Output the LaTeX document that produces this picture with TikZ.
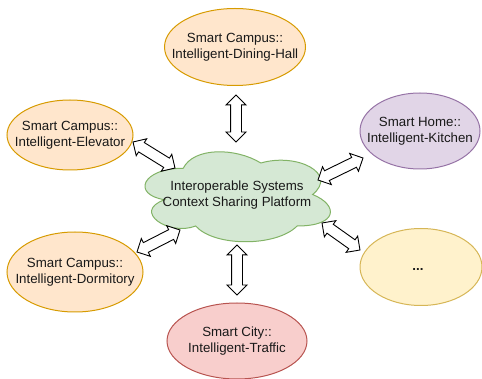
\documentclass[tikz,border=0pt]{standalone}
\usepackage{fontspec}
\setmainfont{Liberation Sans}
\usetikzlibrary{shapes.geometric,shapes.arrows,calc}
\definecolor{orgF}{HTML}{FFE6CC}\definecolor{orgD}{HTML}{D79B00}
\definecolor{purF}{HTML}{E1D5E7}\definecolor{purD}{HTML}{9673A6}
\definecolor{yelF}{HTML}{FFF2CC}\definecolor{yelD}{HTML}{D6B656}
\definecolor{redF}{HTML}{F8CECC}\definecolor{redD}{HTML}{B85450}
\definecolor{grnF}{HTML}{D5E8D4}\definecolor{grnD}{HTML}{82B366}
\tikzset{
  lbl/.style={font=\fontsize{13.3}{15.7}\selectfont, align=center, text=black!90},
  ell/.style={ellipse, draw=#1D, fill=#1F, line width=1pt, inner sep=0pt},
  dbl/.style={to path={let \p1=(\tikztostart), \p2=(\tikztotarget),
     \n1={atan2(\y2-\y1,\x2-\x1)}, \n2={veclen(\x2-\x1,\y2-\y1)} in
     node[double arrow, draw=black, fill=white, line width=0.9pt,
          minimum height=\n2, inner xsep=0pt, inner ysep=5pt, double arrow head extend=4.5pt,
          rotate=\n1] at ($(\tikztostart)!0.5!(\tikztotarget)$) {}}}
}
\begin{document}
\begin{tikzpicture}[x=1pt,y=-1pt]
\useasboundingbox (0,0) rectangle (482,379);
% cloud
\begin{scope}[shift={(131.5,142)}, x=207pt, y=-105pt]
\draw[draw=grnD, fill=grnF, line width=1pt]
  (0.25,0.25) .. controls (0.05,0.25) and (0,0.5) .. (0.16,0.55)
  .. controls (0,0.66) and (0.18,0.9) .. (0.31,0.8)
  .. controls (0.4,1) and (0.7,1) .. (0.8,0.8)
  .. controls (1,0.8) and (1,0.6) .. (0.875,0.5)
  .. controls (1,0.3) and (0.8,0.1) .. (0.625,0.2)
  .. controls (0.5,0.05) and (0.3,0.05) .. (0.25,0.25) -- cycle;
\end{scope}
\node[lbl] (cloud) at (237,195) {Interoperable Systems\\Context Sharing Platform};
% ellipses
\node[ell=org, minimum width=141pt, minimum height=77pt, label={[lbl]center:Smart Campus::\\Intelligent-Dining-Hall}] (dining) at (235,47) {};
\node[ell=org, minimum width=126pt, minimum height=70pt, label={[lbl]center:Smart Campus::\\Intelligent-Elevator}] (elev) at (70,135) {};
\node[ell=pur, minimum width=120pt, minimum height=76pt, label={[lbl]center:Smart Home::\\Intelligent-Kitchen}] (kitchen) at (420,131) {};
\node[ell=yel, minimum width=122pt, minimum height=77pt, label={[lbl,yshift=-3pt,xshift=-3pt]center:\textbf{...}}] (dots) at (421,267) {};
\node[ell=org, minimum width=136pt, minimum height=80pt, label={[lbl]center:Smart Campus::\\Intelligent-Dormitory}] (dorm) at (75,272) {};
\node[ell=red, minimum width=140pt, minimum height=76pt, label={[lbl]center:Smart City::\\Intelligent-Traffic}] (traffic) at (237,341) {};
% arrow ends
\coordinate (a1) at (236,95);  \coordinate (b1) at (236,142);
\coordinate (a2) at (133,142); \coordinate (b2) at (175,168);
\coordinate (a3) at (318,180); \coordinate (b3) at (363,158);
\coordinate (a4) at (322,223); \coordinate (b4) at (360,250);
\coordinate (a5) at (137,252); \coordinate (b5) at (180,230);
\coordinate (a6) at (237,245); \coordinate (b6) at (237,295);
\path (a1) to[dbl] (b1);
\path (a2) to[dbl] (b2);
\path (a3) to[dbl] (b3);
\path (a4) to[dbl] (b4);
\path (a5) to[dbl] (b5);
\path (a6) to[dbl] (b6);
\end{tikzpicture}
\end{document}
